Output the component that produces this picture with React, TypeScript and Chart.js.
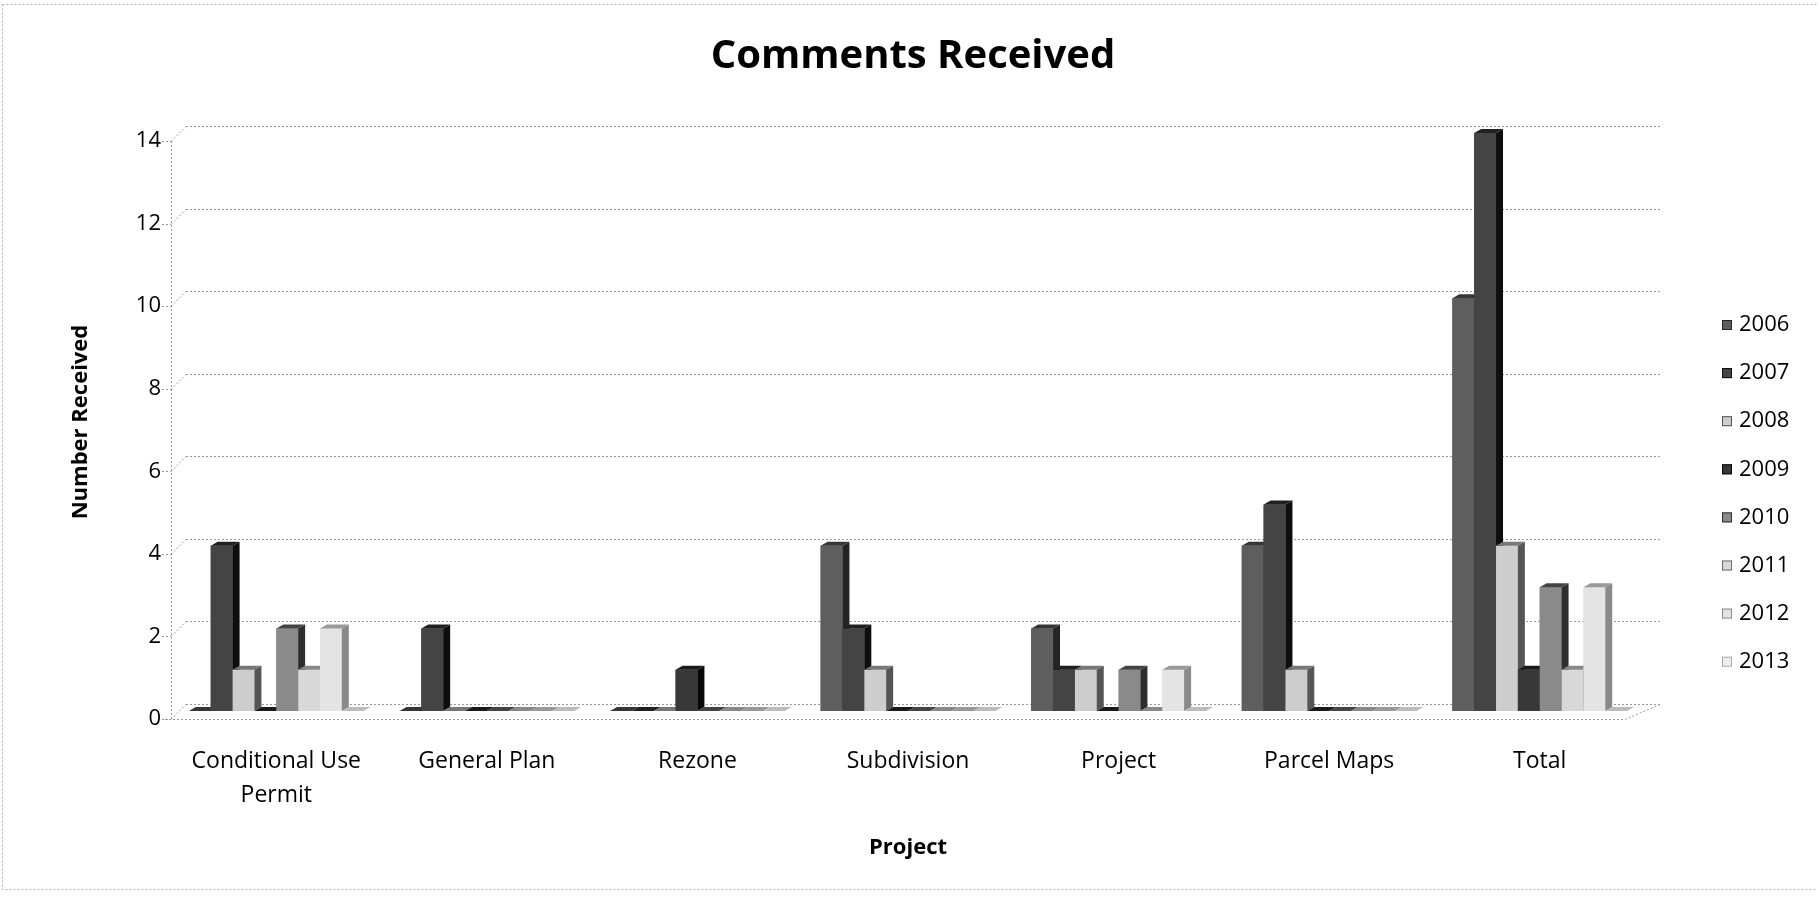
import React, { useEffect, useRef } from "react";
import { Chart, registerables } from "chart.js";

Chart.register(...registerables);

const categories: (string | string[])[] = [
  ["Conditional Use", "Permit"],
  "General Plan",
  "Rezone",
  "Subdivision",
  "Project",
  "Parcel Maps",
  "Total",
];
const years = ["2006", "2007", "2008", "2009", "2010", "2011", "2012", "2013"];
const s2006 = [0, 0, 0, 4, 2, 4, 10];
const s2007 = [4, 2, 0, 2, 1, 5, 14];
const s2008 = [1, 0, 0, 1, 1, 1, 4];
const s2009 = [0, 0, 1, 0, 0, 0, 1];
const s2010 = [2, 0, 0, 0, 1, 0, 3];
const s2011 = [1, 0, 0, 0, 0, 0, 1];
const s2012 = [2, 0, 0, 0, 1, 0, 3];
const s2013 = [0, 0, 0, 0, 0, 0, 0];
const seriesValues = [s2006, s2007, s2008, s2009, s2010, s2011, s2012, s2013];
const yTicks = [0, 2, 4, 6, 8, 10, 12, 14];

const frontColors = ["#5e5e5e", "#444444", "#cdcdcd", "#383838", "#8a8a8a", "#d8d8d8", "#e4e4e4", "#eeeeee"];
const sideColors = ["#242424", "#0e0e0e", "#555555", "#080808", "#2e2e2e", "#6a6a6a", "#8a8a8a", "#aaaaaa"];
const topColors = ["#363636", "#202020", "#777777", "#1a1a1a", "#444444", "#888888", "#999999", "#bbbbbb"];

const FONT = "'Open Sans', 'Noto Sans', sans-serif";
const DX = 7;
const DY = 4;
const BX = 15;
const BY = 7;
const FY = 8;

const wallPlugin = {
  id: "wall3d",
  afterLayout(chart: any) {
    if (chart.titleBlock) {
      chart.titleBlock.left = 0;
      chart.titleBlock.right = 1826;
    }
  },
  beforeDatasetsDraw(chart: any) {
    const ctx = chart.ctx;
    const ys = chart.scales.y;
    const { left, right, top, bottom } = chart.chartArea;
    ctx.save();
    ctx.strokeStyle = "#999999";
    ctx.lineWidth = 1;
    ctx.setLineDash([2, 2]);
    const line = (x1: number, y1: number, x2: number, y2: number) => {
      ctx.beginPath();
      ctx.moveTo(x1, y1);
      ctx.lineTo(x2, y2);
      ctx.stroke();
    };
    ys.ticks.forEach((t: any) => {
      const py = Math.round(ys.getPixelForValue(t.value)) + 0.5;
      line(left + BX, py - BY, right + BX, py - BY);
      line(left, py + FY, left + BX, py - BY);
      line(left - 9, py + FY, left, py + FY);
    });
    line(left + 0.5, top + FY, left + 0.5, bottom + FY);
    line(left - 6, bottom + FY + 0.5, right - 20, bottom + FY + 0.5);
    line(right - 20, bottom + FY + 0.5, right + BX, bottom - BY + 0.5);
    ctx.restore();
  },
  afterDatasetsDraw(chart: any) {
    const ctx = chart.ctx;
    const n = chart.data.datasets.length;
    ctx.save();
    for (let i = 0; i < n; i++) {
      const meta = chart.getDatasetMeta(i);
      meta.data.forEach((el: any) => {
        el.draw(ctx);
        const { x, y, base, width } = el.getProps(["x", "y", "base", "width"], true);
        const l = x - width / 2;
        const r = x + width / 2;
        ctx.fillStyle = sideColors[i];
        ctx.beginPath();
        ctx.moveTo(r, y);
        ctx.lineTo(r + DX, y - DY);
        ctx.lineTo(r + DX, base - DY);
        ctx.lineTo(r, base);
        ctx.closePath();
        ctx.fill();
        ctx.fillStyle = topColors[i];
        ctx.beginPath();
        ctx.moveTo(l, y);
        ctx.lineTo(l + DX, y - DY);
        ctx.lineTo(r + DX, y - DY);
        ctx.lineTo(r, y);
        ctx.closePath();
        ctx.fill();
      });
    }
    ctx.restore();
  },
  afterDraw(chart: any) {
    const ctx = chart.ctx;
    ctx.save();
    ctx.font = `22px ${FONT}`;
    ctx.textBaseline = "middle";
    ctx.textAlign = "left";
    chart.data.datasets.forEach((ds: any, i: number) => {
      const cy = 325 + i * 48.1;
      ctx.fillStyle = ds.backgroundColor;
      ctx.fillRect(1722, cy - 5, 10, 10);
      ctx.strokeStyle = sideColors[i];
      ctx.lineWidth = 1;
      ctx.strokeRect(1722.5, cy - 4.5, 9, 9);
      ctx.fillStyle = "#000";
      ctx.fillText(ds.label, 1739, cy);
    });
    ctx.strokeStyle = "#b0b0b0";
    ctx.setLineDash([2, 2]);
    ctx.beginPath();
    ctx.moveTo(2.5, 4.5);
    ctx.lineTo(1816.5, 4.5);
    ctx.moveTo(2.5, 4.5);
    ctx.lineTo(2.5, 889.5);
    ctx.lineTo(1816.5, 889.5);
    ctx.stroke();
    ctx.restore();
  },
};

export default function App() {
  const ref = useRef<HTMLCanvasElement | null>(null);
  useEffect(() => {
    document.body.style.margin = "0";
    const canvas = ref.current;
    if (!canvas) return;
    const chart = new Chart(canvas, {
      type: "bar",
      data: {
        labels: categories,
        datasets: years.map((y, i) => ({
          label: y,
          data: seriesValues[i],
          backgroundColor: frontColors[i],
          borderWidth: 0,
          categoryPercentage: 0.83,
          barPercentage: 1,
        })),
      },
      options: {
        responsive: false,
        animation: false,
        layout: { padding: { left: 60, right: 174, top: 0, bottom: 38 } },
        plugins: {
          legend: { display: false },
          tooltip: { enabled: false },
          title: {
            display: true,
            text: "Comments Received",
            color: "#000",
            font: { family: FONT, size: 40, weight: "bold" },
            padding: { top: 33, bottom: 52 },
          },
        },
        scales: {
          x: {
            afterFit: (scale: any) => {
              scale.height = 150;
            },
            grid: { display: false },
            border: { display: false },
            ticks: {
              color: "#000",
              font: { family: FONT, size: 23, lineHeight: 1.5 },
              padding: 25,
              maxRotation: 0,
              autoSkip: false,
            },
            title: {
              display: true,
              text: "Project",
              color: "#000",
              font: { family: FONT, size: 22, weight: "bold" },
              padding: { top: 22, bottom: 0 },
            },
          },
          y: {
            min: 0,
            max: 14,
            afterBuildTicks: (scale: any) => {
              scale.ticks = yTicks.map((v) => ({ value: v }));
            },
            afterFit: (scale: any) => {
              scale.width = 111;
            },
            grid: { display: false },
            border: { display: false },
            ticks: {
              color: "#000",
              font: { family: FONT, size: 22 },
              padding: 2,
              labelOffset: 8,
            },
            title: {
              display: true,
              text: "Number Received",
              color: "#000",
              font: { family: FONT, size: 22, weight: "bold" },
              padding: { top: 8, bottom: 32 },
            },
          },
        },
      },
      plugins: [wallPlugin],
    });
    return () => chart.destroy();
  }, []);
  return (
    <div style={{ width: 1819, height: 899 }}>
      <canvas ref={ref} width={1819} height={899} />
    </div>
  );
}
